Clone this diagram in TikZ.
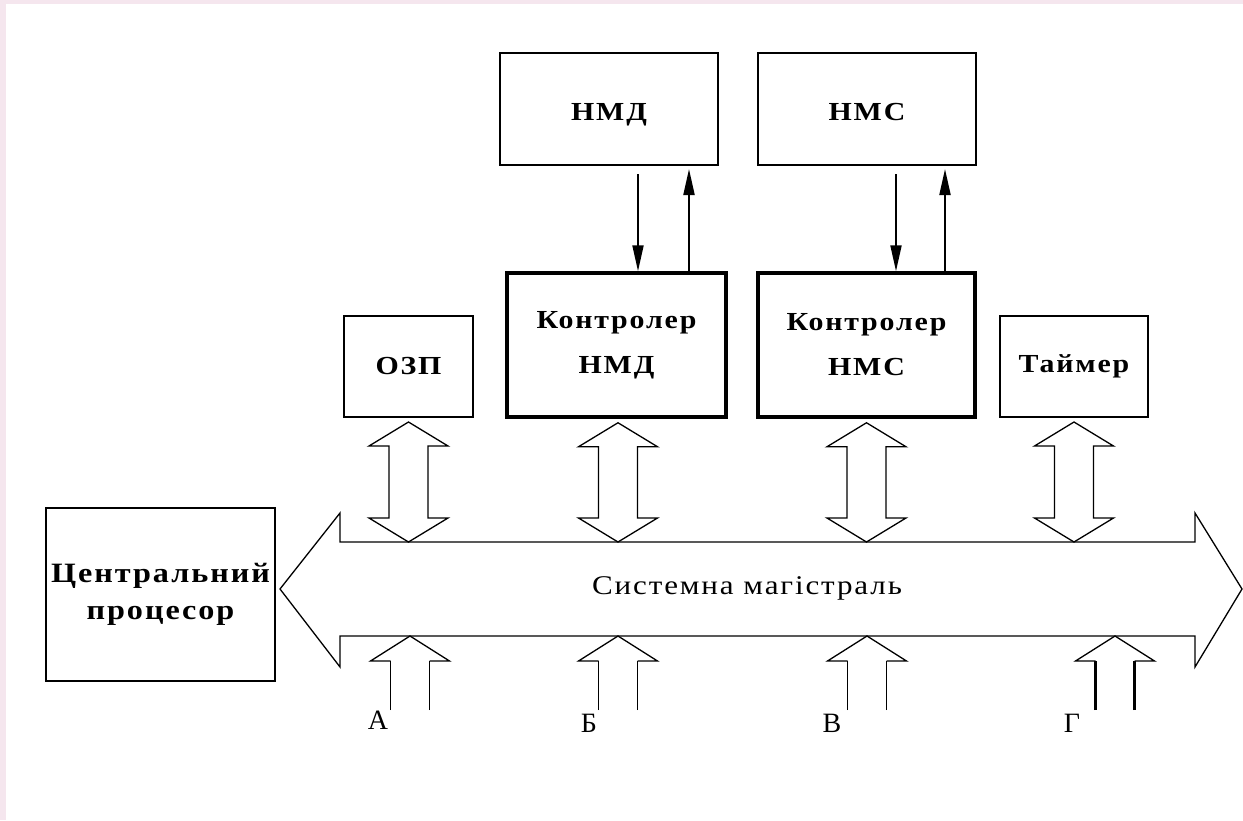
\documentclass[tikz,border=0pt]{standalone}
\usepackage{fontspec}
\setmainfont{Liberation Serif}
\newfontfamily\boxfont[FakeStretch=1.15,LetterSpace=7]{Liberation Serif}
\usetikzlibrary{arrows.meta,calc}
\definecolor{edgepink}{RGB}{245,230,238}

% hollow two-headed vertical arrow between an upper tip #1 and a lower tip #2
\newcommand\hollowdouble[2]{%
  \draw[hollow] (#1)
    -- ([xshift=39.5pt,yshift=-24pt]#1) -- ([xshift=19.5pt,yshift=-24pt]#1)
    -- ([xshift=19.5pt,yshift=24pt]#2) -- ([xshift=39.5pt,yshift=24pt]#2)
    -- (#2)
    -- ([xshift=-39.5pt,yshift=24pt]#2) -- ([xshift=-19.5pt,yshift=24pt]#2)
    -- ([xshift=-19.5pt,yshift=-24pt]#1) -- ([xshift=-39.5pt,yshift=-24pt]#1)
    -- cycle;}
% hollow single-headed arrow pointing up to tip #2 from an open tail at #3;
% #1 is the width of the two shaft lines
\newcommand\hollowup[3][1.3pt]{%
  \draw[hollow] ([xshift=-19.5pt,yshift=-25pt]#2)
    -- ([xshift=-39.5pt,yshift=-25pt]#2) -- (#2)
    -- ([xshift=39.5pt,yshift=-25pt]#2) -- ([xshift=19.5pt,yshift=-25pt]#2);
  \draw[line width=#1] ([xshift=-19.5pt]#3) -- ([xshift=-19.5pt,yshift=-25pt]#2);
  \draw[line width=#1] ([xshift=19.5pt]#3) -- ([xshift=19.5pt,yshift=-25pt]#2);}

\begin{document}
\begin{tikzpicture}[x=1pt,y=-1pt,
  box/.style={draw,line width=2pt,rectangle,inner sep=0pt,align=center,
    font=\boxfont\bfseries\fontsize{26}{45}\selectfont},
  drive/.style={box,minimum width=218pt,minimum height=112pt,
    text height=22pt,text depth=0pt},
  ctl/.style={box,line width=3.5pt},
  hollow/.style={draw,line width=1.3pt,line join=miter,fill=white},
  sig/.style={line width=2pt,-{Triangle[length=26pt,width=11pt]}},
  lbl/.style={font=\fontsize{28}{30}\selectfont,inner sep=0pt}]

% page with its pink edge
\fill[edgepink] (0,0) rectangle (1243,820);
\fill[white] (6,4) rectangle (1243,820);
\useasboundingbox (0,0) rectangle (1243,820);

% devices
\node[drive] (nmd) at (609,109) {НМД};
\node[drive] (nmc) at (867,109) {НМС};
\node[ctl,minimum width=219pt,minimum height=144pt] (ctla) at (616.5,345) {Контролер\\НМД};
\node[ctl,minimum width=217pt,minimum height=144pt] (ctlb) at (866.5,345) {Контролер\\НМС};
\node[box,minimum width=129pt,minimum height=101pt] (ram) at (408.5,366.5) {ОЗП};
\node[box,minimum width=148pt,minimum height=101pt] (tmr) at (1074,366.5) {Таймер};
\node[box,line width=2.5pt,minimum width=229pt,minimum height=173pt,
  font=\boxfont\bfseries\fontsize{28}{37}\selectfont] (cpu) at (160.5,594.5)
  {Центральний\\процесор};

% system bus
\draw[hollow] (340,542) -- (1195,542) -- (1195,513) -- (1242,589) -- (1195,667)
  -- (1195,636) -- (340,636) -- (340,667) -- (280,589) -- (340,513) -- cycle;
\node[font=\boxfont\fontsize{27}{30}\selectfont] (bus) at (747,588) {Системна магістраль};
\coordinate (bustop) at (0,542);
\coordinate (busbot) at (0,636);

% signals between drives and their controllers
\coordinate (nmdDn) at ([xshift=29pt]nmd.south);
\coordinate (nmdUp) at ([xshift=80pt]nmd.south);
\coordinate (nmcDn) at ([xshift=29pt]nmc.south);
\coordinate (nmcUp) at ([xshift=78pt]nmc.south);
\draw[sig] ([yshift=-8pt]nmdDn) -- (nmdDn |- ctla.north);
\draw[sig] (nmdUp |- ctla.north) -- ([yshift=-3pt]nmdUp);
\draw[sig] ([yshift=-8pt]nmcDn) -- (nmcDn |- ctlb.north);
\draw[sig] (nmcUp |- ctlb.north) -- ([yshift=-3pt]nmcUp);

% links of the devices to the bus
\coordinate (ramT) at ([yshift=-4pt]ram.south);   \coordinate (ramB) at (ramT |- bustop);
\coordinate (ctlaT) at ([xshift=1.5pt,yshift=-4pt]ctla.south); \coordinate (ctlaB) at (ctlaT |- bustop);
\coordinate (ctlbT) at ([yshift=-4pt]ctlb.south); \coordinate (ctlbB) at (ctlbT |- bustop);
\coordinate (tmrT) at ([yshift=-4pt]tmr.south);   \coordinate (tmrB) at (tmrT |- bustop);
\hollowdouble{ramT}{ramB}
\hollowdouble{ctlaT}{ctlaB}
\hollowdouble{ctlbT}{ctlbB}
\hollowdouble{tmrT}{tmrB}

% external inputs to the bus
\coordinate (inA) at (410,636);  \coordinate (tailA) at (410,710);
\coordinate (inB) at (618,636);  \coordinate (tailB) at (618,710);
\coordinate (inC) at (867,636);  \coordinate (tailC) at (867,710);
\coordinate (inD) at (1115,636); \coordinate (tailD) at (1115,710);
\hollowup{inA}{tailA}
\hollowup{inB}{tailB}
\hollowup{inC}{tailC}
\hollowup[3pt]{inD}{tailD}
\node[lbl] (la) at (378,720) {А};
\node[lbl] (lb) at (589,723) {Б};
\node[lbl] (lc) at (832,723) {В};
\node[lbl] (ld) at (1072,723) {Г};
\end{tikzpicture}
\end{document}
